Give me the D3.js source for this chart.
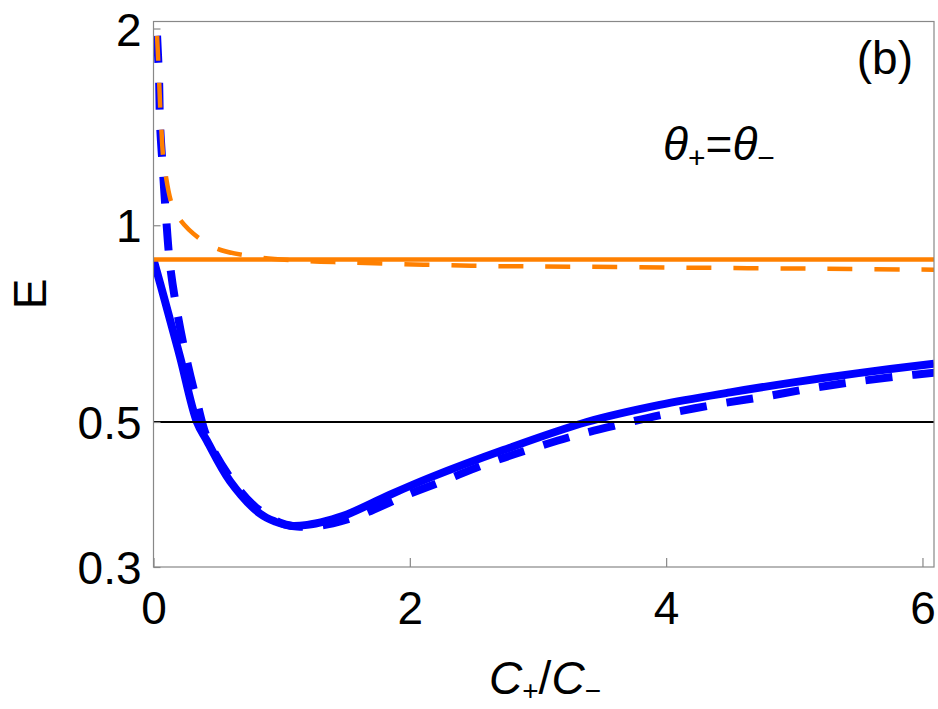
<!DOCTYPE html>
<html>
<head>
<meta charset="utf-8">
<script src="https://cdn.jsdelivr.net/npm/d3@7"></script>
<style>
  body { margin: 0; background: #fff; }
  text { font-family: "Liberation Sans", Arial, sans-serif; fill: #000; }
</style>
</head>
<body>
<script>
const w = 938;
const h = 709;

// data
const xTicks = [0, 2, 4, 6];
const yTicks = [0.3, 0.5, 1, 2];
const yTickLabels = ["0.3", "0.5", "1", "2"];

const blueSolidX = [0, 0.087, 0.207, 0.339, 0.417, 0.597, 0.831, 0.95, 1.065, 1.2, 1.35, 1.51, 1.845, 2.157, 2.73, 3.38, 3.95, 4.5, 5.02, 5.5, 6.09];
const blueSolidY = [0.886, 0.769, 0.629, 0.5, 0.468, 0.406, 0.362, 0.352, 0.347, 0.348, 0.353, 0.361, 0.387, 0.411, 0.453, 0.5, 0.531, 0.555, 0.576, 0.594, 0.614];

const blueDashX = [0.015, 0.027, 0.043, 0.051, 0.074, 0.098, 0.129, 0.183, 0.254, 0.339, 0.425, 0.65, 0.8, 1.0, 1.12, 1.24, 1.4, 1.61, 1.94, 2.27, 2.62, 2.98, 3.33, 3.68, 4.01, 4.39, 4.75, 5.11, 5.47, 5.84, 6.1];
const blueDashY = [2.3, 1.97, 1.68, 1.43, 1.21, 1.03, 0.87, 0.74, 0.629, 0.537, 0.47, 0.398, 0.37, 0.35, 0.346, 0.346, 0.35, 0.36, 0.384, 0.407, 0.433, 0.457, 0.479, 0.498, 0.515, 0.532, 0.546, 0.562, 0.576, 0.588, 0.595];

const orangeSolidX = [0, 6.1];
const orangeSolidY = [0.886, 0.886];

const orangeDashX = [0.015, 0.027, 0.043, 0.059, 0.09, 0.183, 0.449, 0.784, 1.166, 1.52, 2.48, 3.33, 4.26, 5.2, 6.1];
const orangeDashY = [2.3, 1.97, 1.68, 1.43, 1.21, 1.036, 0.93, 0.895, 0.882, 0.877, 0.867, 0.864, 0.861, 0.858, 0.855];

const refLineX = [0, 6.1];
const refLineY = [0.5, 0.5];

const plotLeft = 153.5, plotRight = 934, plotTop = 21.5, plotBottom = 567;

const svg = d3.select("body").append("svg").attr("width", w).attr("height", h);

// scales
const xScale = d3.scaleLinear().domain([0, 6.09]).range([plotLeft, plotRight]);
const yScale = d3.scaleLog().domain([0.3, 2.05]).range([plotBottom, plotTop]);

svg.append("clipPath").attr("id", "plot")
  .append("rect")
  .attr("x", plotLeft).attr("y", plotTop)
  .attr("width", plotRight - plotLeft).attr("height", plotBottom - plotTop);

const line = d3.line()
  .x((d) => xScale(d[0]))
  .y((d) => yScale(d[1]))
  .curve(d3.curveCatmullRom.alpha(0.5));

const zip = (xs, ys) => xs.map((x, i) => [x, ys[i]]);

const plot = svg.append("g").attr("clip-path", "url(#plot)");

// drawing order follows the overlaps seen in the picture
plot.append("path").datum(zip(blueSolidX, blueSolidY))
  .attr("d", line).attr("fill", "none")
  .attr("stroke", "#0000ff").attr("stroke-width", 8);

plot.append("path").datum(zip(orangeSolidX, orangeSolidY))
  .attr("d", line).attr("fill", "none")
  .attr("stroke", "#ff8000").attr("stroke-width", 4.5);

plot.append("path").datum(zip(blueDashX, blueDashY))
  .attr("d", line).attr("fill", "none")
  .attr("stroke", "#0000ff").attr("stroke-width", 8)
  .attr("stroke-dasharray", "27,20");

plot.append("path").datum(zip(orangeDashX, orangeDashY))
  .attr("d", line).attr("fill", "none")
  .attr("stroke", "#ff8000").attr("stroke-width", 4.5)
  .attr("stroke-dasharray", "25,22");

plot.append("path").datum(zip(refLineX, refLineY))
  .attr("d", line).attr("fill", "none")
  .attr("stroke", "#000").attr("stroke-width", 2);

// frame
svg.append("rect")
  .attr("x", plotLeft).attr("y", plotTop)
  .attr("width", plotRight - plotLeft).attr("height", plotBottom - plotTop)
  .attr("fill", "none").attr("stroke", "#888").attr("stroke-width", 1.2);

//axes
const xAxis = d3.axisBottom(xScale).tickValues(xTicks).tickSizeInner(-9).tickSizeOuter(0).tickPadding(22).tickFormat(d3.format("d"));
const yAxis = d3.axisLeft(yScale).tickValues(yTicks).tickSizeInner(-7).tickSizeOuter(0).tickPadding(12)
  .tickFormat((d, i) => yTickLabels[i]);

const gx = svg.append("g").attr("transform", "translate(0," + plotBottom + ")").call(xAxis);
const gy = svg.append("g").attr("transform", "translate(" + plotLeft + ",0)").call(yAxis);

[gx, gy].forEach((g) => {
  g.select(".domain").remove();
  g.selectAll(".tick line").attr("stroke", "#888").attr("stroke-width", 1.2);
  g.selectAll(".tick text").attr("font-size", 46).attr("font-family", "Liberation Sans, Arial, sans-serif").attr("fill", "#000");
});
gx.selectAll(".tick text").attr("dy", "0.75em");
gy.selectAll(".tick text").attr("dy", "0.36em");

// axis labels
const xl = svg.append("text")
  .attr("x", 545).attr("y", 694)
  .attr("text-anchor", "middle")
  .attr("font-size", 46);
xl.append("tspan").attr("font-style", "italic").text("C");
xl.append("tspan").attr("font-size", 28).attr("dy", 6).text("+");
xl.append("tspan").attr("dy", -6).text("/");
xl.append("tspan").attr("font-style", "italic").text("C");
xl.append("tspan").attr("font-size", 28).attr("dy", 6).text("\u2212");

svg.append("text")
  .attr("transform", "translate(46,294) rotate(-90)")
  .attr("text-anchor", "middle")
  .attr("font-size", 46)
  .text("E");

svg.append("text")
  .attr("x", 913).attr("y", 74)
  .attr("text-anchor", "end")
  .attr("font-size", 46)
  .text("(b)");

const th = svg.append("text")
  .attr("x", 663).attr("y", 160)
  .attr("font-size", 46);
th.append("tspan").attr("font-style", "italic").text("\u03b8");
th.append("tspan").attr("font-size", 30).attr("dy", 8).text("+");
th.append("tspan").attr("dy", -8).text("=");
th.append("tspan").attr("font-style", "italic").text("\u03b8");
th.append("tspan").attr("font-size", 30).attr("dy", 8).text("\u2212");
</script>
</body>
</html>
